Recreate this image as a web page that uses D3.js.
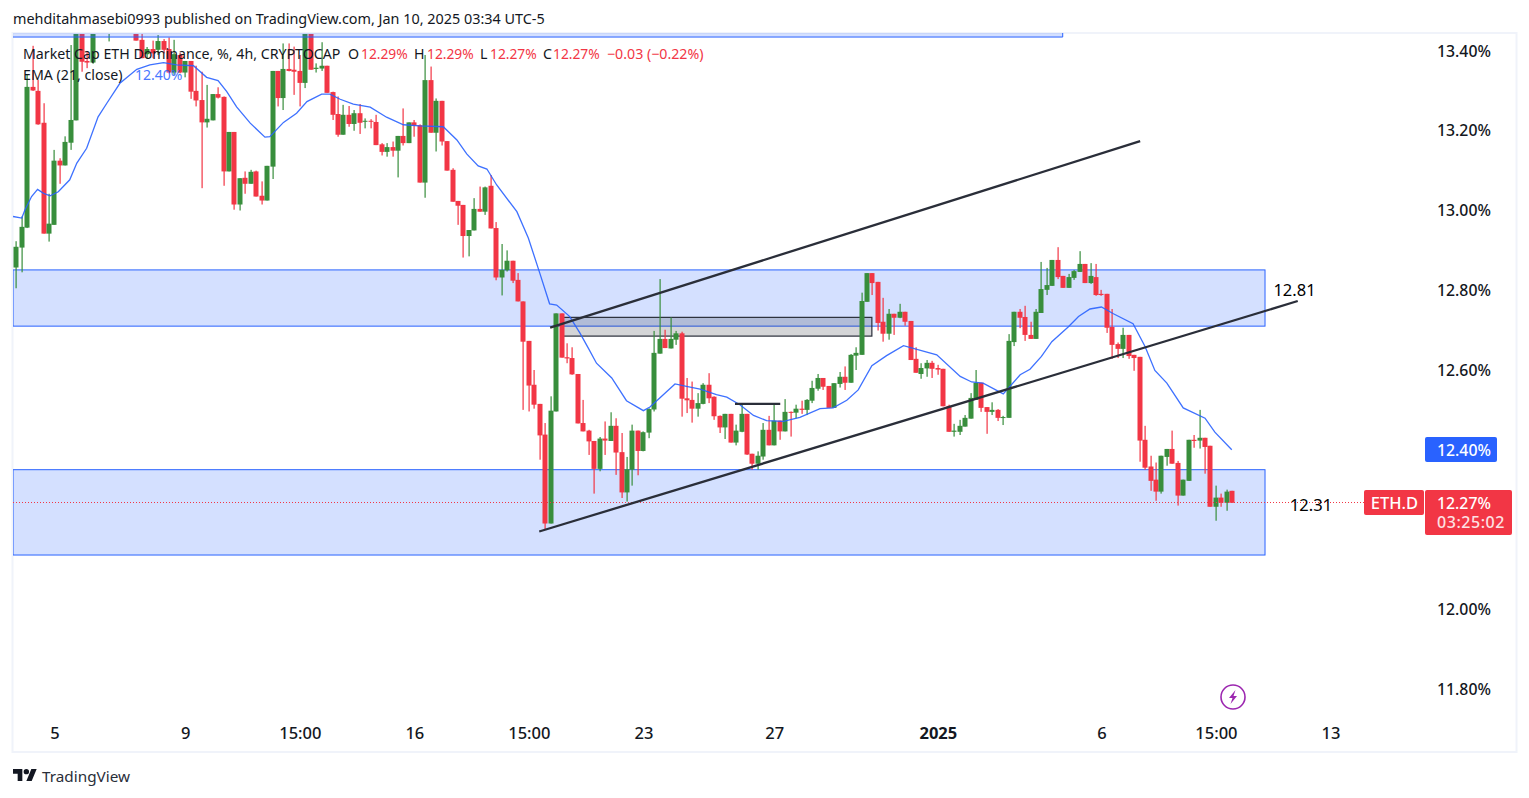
<!DOCTYPE html>
<html><head><meta charset="utf-8">
<script src="https://cdnjs.cloudflare.com/ajax/libs/d3/7.8.5/d3.min.js"></script>
<style>html,body{margin:0;padding:0;background:#fff;overflow:hidden}svg{display:block}text{font-family:"Noto Sans",sans-serif}</style>
</head><body><svg id="c" width="1529" height="798"></svg>
<script>
const opens=[12.857,12.907,12.957,13.31,13.3,13.22,12.942,12.964,13.125,13.113,13.17,13.226,13.47,13.375,13.371,13.48,13.52,13.47,13.5,13.52,13.49,13.53,13.5,13.428,13.392,13.405,13.403,13.425,13.405,13.346,13.39,13.346,13.375,13.3,13.277,13.221,13.226,13.292,13.285,13.098,13.197,13.015,13.082,13.067,13.098,13.037,13.025,13.11,13.35,13.282,13.355,13.353,13.35,13.32,13.47,13.355,13.356,13.363,13.297,13.242,13.19,13.24,13.217,13.244,13.223,13.225,13.222,13.166,13.147,13.159,13.15,13.187,13.169,13.221,13.214,13.07,13.327,13.195,13.275,13.174,13.102,13.024,13.014,12.936,12.95,13.004,12.997,13.062,12.956,12.832,12.85,12.874,12.826,12.772,12.673,12.563,12.515,12.438,12.215,12.496,12.742,12.632,12.63,12.59,12.467,12.448,12.422,12.352,12.428,12.422,12.46,12.394,12.293,12.35,12.448,12.397,12.443,12.501,12.641,12.678,12.654,12.676,12.692,12.529,12.525,12.503,12.515,12.563,12.533,12.485,12.456,12.49,12.418,12.445,12.49,12.39,12.365,12.383,12.45,12.411,12.473,12.446,12.495,12.493,12.503,12.5,12.523,12.553,12.58,12.56,12.505,12.565,12.583,12.568,12.636,12.638,12.771,12.843,12.821,12.721,12.691,12.741,12.731,12.746,12.723,12.628,12.59,12.604,12.618,12.605,12.603,12.51,12.445,12.445,12.458,12.478,12.525,12.568,12.507,12.495,12.5,12.48,12.48,12.67,12.746,12.733,12.688,12.678,12.743,12.801,12.811,12.876,12.836,12.806,12.831,12.846,12.866,12.818,12.833,12.791,12.791,12.708,12.665,12.653,12.688,12.638,12.633,12.425,12.358,12.325,12.295,12.382,12.402,12.367,12.285,12.322,12.425,12.423,12.43,12.41,12.257,12.28,12.267,12.297];
const highs=[12.923,12.985,13.34,13.413,13.328,13.269,13.042,13.152,13.131,13.186,13.415,13.5,13.5,13.399,13.5,13.55,13.56,13.55,13.56,13.57,13.56,13.56,13.53,13.46,13.41,13.426,13.44,13.43,13.434,13.428,13.395,13.375,13.375,13.363,13.348,13.315,13.292,13.309,13.286,13.197,13.197,13.081,13.098,13.102,13.1,13.073,13.112,13.35,13.35,13.419,13.419,13.411,13.39,13.5,13.5,13.369,13.422,13.363,13.298,13.286,13.265,13.262,13.252,13.267,13.231,13.229,13.24,13.169,13.169,13.173,13.187,13.256,13.221,13.227,13.216,13.39,13.361,13.281,13.275,13.174,13.106,13.024,13.014,12.951,13.031,13.06,13.06,13.089,12.971,12.916,12.9,12.874,12.843,12.772,12.673,12.6,12.515,12.467,12.534,12.742,12.742,12.667,12.657,12.59,12.525,12.45,12.422,12.432,12.471,12.494,12.479,12.442,12.382,12.463,12.448,12.446,12.504,12.698,12.828,12.701,12.732,12.698,12.696,12.58,12.571,12.542,12.567,12.592,12.534,12.486,12.49,12.49,12.463,12.514,12.49,12.39,12.396,12.467,12.485,12.514,12.473,12.527,12.496,12.513,12.523,12.527,12.573,12.59,12.58,12.56,12.567,12.595,12.609,12.64,12.657,12.794,12.843,12.843,12.821,12.781,12.753,12.741,12.766,12.746,12.723,12.657,12.617,12.625,12.623,12.613,12.603,12.513,12.465,12.475,12.487,12.542,12.6,12.568,12.507,12.519,12.502,12.485,12.69,12.746,12.753,12.761,12.721,12.753,12.871,12.856,12.876,12.908,12.836,12.841,12.851,12.898,12.866,12.868,12.866,12.801,12.791,12.753,12.669,12.706,12.688,12.638,12.633,12.46,12.385,12.368,12.385,12.402,12.448,12.372,12.325,12.425,12.437,12.5,12.43,12.41,12.31,12.29,12.3,12.297];
const lows=[12.805,12.845,12.956,13.3,13.215,12.942,12.922,12.964,13.067,13.113,13.152,13.226,13.348,13.357,13.368,13.46,13.47,13.424,13.46,13.47,13.46,13.445,13.426,13.382,13.382,13.382,13.39,13.394,13.344,13.34,13.344,13.334,13.28,13.261,13.056,13.208,13.226,13.281,13.062,13.098,13.002,13,13.042,13.067,13.035,13.015,13.025,13.079,13.261,13.252,13.349,13.29,13.261,13.307,13.353,13.346,13.35,13.295,13.227,13.185,13.19,13.21,13.2,13.192,13.206,13.206,13.164,13.138,13.135,13.135,13.083,13.163,13.169,13.185,13.07,13.032,13.195,13.148,13.163,13.1,13.022,12.964,12.882,12.885,12.95,12.997,12.989,12.955,12.825,12.787,12.847,12.818,12.772,12.5,12.496,12.503,12.375,12.199,12.215,12.496,12.631,12.617,12.588,12.466,12.446,12.387,12.29,12.346,12.387,12.422,12.337,12.279,12.27,12.31,12.336,12.396,12.429,12.496,12.641,12.655,12.654,12.663,12.483,12.492,12.468,12.483,12.514,12.517,12.475,12.442,12.427,12.418,12.411,12.444,12.387,12.35,12.35,12.375,12.411,12.411,12.425,12.446,12.433,12.479,12.49,12.487,12.517,12.548,12.55,12.505,12.505,12.556,12.55,12.568,12.6,12.638,12.771,12.788,12.699,12.671,12.676,12.688,12.73,12.711,12.625,12.593,12.578,12.583,12.58,12.588,12.509,12.445,12.433,12.437,12.458,12.478,12.525,12.495,12.44,12.487,12.472,12.462,12.48,12.66,12.705,12.673,12.678,12.678,12.743,12.788,12.811,12.828,12.806,12.806,12.826,12.846,12.818,12.816,12.786,12.786,12.693,12.628,12.63,12.63,12.628,12.598,12.37,12.35,12.297,12.272,12.29,12.36,12.365,12.26,12.285,12.322,12.405,12.403,12.34,12.257,12.222,12.257,12.247,12.267];
const closes=[12.909,12.959,13.31,13.301,13.216,12.942,12.967,13.125,13.113,13.172,13.227,13.47,13.373,13.371,13.47,13.52,13.48,13.5,13.52,13.49,13.52,13.49,13.426,13.382,13.405,13.394,13.425,13.403,13.346,13.392,13.346,13.375,13.298,13.276,13.221,13.23,13.292,13.283,13.098,13.197,13.015,13.081,13.067,13.097,13.035,13.025,13.112,13.35,13.282,13.355,13.35,13.348,13.32,13.47,13.353,13.358,13.363,13.295,13.24,13.19,13.24,13.217,13.244,13.22,13.225,13.224,13.164,13.147,13.159,13.15,13.187,13.169,13.221,13.213,13.07,13.327,13.195,13.275,13.173,13.1,13.022,13.012,12.936,12.951,13.004,12.997,13.058,12.955,12.832,12.851,12.874,12.824,12.772,12.671,12.561,12.513,12.436,12.215,12.498,12.742,12.631,12.629,12.589,12.466,12.446,12.421,12.352,12.428,12.423,12.46,12.393,12.293,12.351,12.448,12.397,12.444,12.502,12.643,12.678,12.655,12.678,12.692,12.528,12.524,12.503,12.517,12.563,12.529,12.484,12.456,12.49,12.418,12.448,12.49,12.388,12.365,12.385,12.45,12.411,12.473,12.446,12.495,12.493,12.503,12.5,12.525,12.555,12.58,12.558,12.505,12.567,12.583,12.568,12.638,12.643,12.773,12.843,12.818,12.718,12.691,12.741,12.731,12.746,12.721,12.625,12.593,12.605,12.618,12.603,12.601,12.509,12.445,12.448,12.46,12.48,12.53,12.568,12.505,12.495,12.5,12.48,12.482,12.673,12.746,12.731,12.688,12.678,12.746,12.803,12.813,12.876,12.833,12.806,12.833,12.848,12.866,12.818,12.836,12.788,12.788,12.706,12.663,12.653,12.688,12.635,12.63,12.423,12.355,12.322,12.295,12.385,12.402,12.365,12.285,12.325,12.425,12.422,12.43,12.407,12.257,12.28,12.267,12.295,12.267];
const emaIdx=[-0.6,1,1.6,2.8,3.9,5,6.2,7.7,9.8,11.1,12.9,15,16.6,19,22.1,24.5,27,29.4,32.5,34.9,37,38.6,40.4,42.9,45.6,46.5,49,51.4,53.3,56,57.5,59.4,61.8,64.9,67.9,71,74,78.3,80.8,82.6,84.7,86.3,88.1,91.8,93.9,96,97.8,99.1,101.5,103.4,104.9,106.4,109.2,111.9,115,116.2,118,120.8,122.9,125.4,128.4,130.3,132.7,135.2,137.6,140.7,143.7,147.4,149.8,152.3,154.4,156.9,159.6,162.7,168.8,173.1,175.2,177.3,181,184.1,185.9,188,189.9,192.9,194.8,196.9,199,201.2,204.8,207,208.8,211,214,218,219.8,222.9];
const emaVal=[12.985,12.981,13.002,13.035,13.053,13.043,13.037,13.047,13.077,13.119,13.156,13.235,13.269,13.319,13.354,13.365,13.371,13.365,13.363,13.334,13.326,13.298,13.26,13.219,13.184,13.185,13.221,13.244,13.273,13.292,13.292,13.279,13.267,13.259,13.234,13.215,13.212,13.21,13.177,13.142,13.112,13.104,13.064,12.997,12.931,12.843,12.766,12.763,12.734,12.692,12.655,12.617,12.58,12.523,12.498,12.507,12.53,12.565,12.559,12.552,12.538,12.532,12.513,12.486,12.473,12.471,12.481,12.503,12.505,12.524,12.55,12.611,12.636,12.661,12.638,12.584,12.57,12.567,12.54,12.588,12.602,12.634,12.671,12.708,12.734,12.753,12.758,12.741,12.716,12.659,12.599,12.567,12.505,12.479,12.444,12.4];
const priceTicks=[13.4,13.2,13.0,12.8,12.6,12.4,12.0,11.8];
const timeTickIdx=[7,31,52,73,94,115,139,169,199,220,241];
const timeTickLabels=["5","9","15:00","16","15:00","23","27","2025","6","15:00","13"];
const zoneTops=[12.851,12.35];
const zoneBottoms=[12.71,12.136];
const trendFrom=[[97.9,12.7065],[95.9,12.195],[131.8,12.515]];
const trendTo=[[206.1,13.174],[235,12.773],[140.1,12.515]];
const GREEN="#388e3c",RED="#f23645",BLUE="#2962ff",INK="#131722";

const svg=d3.select("#c");
const x=d3.scaleLinear().domain([0,223]).range([16.3,1232.3]);
const y=d3.scaleLinear().domain([13.4,11.8]).range([51,689]);
const PL=13,PR=1516,PT=34,PB=752;
const n=opens.length;

svg.append("defs").append("clipPath").attr("id","pane").append("rect").attr("x",PL).attr("y",PT).attr("width",PR-PL).attr("height",PB-PT);
svg.append("rect").attr("x",PL-0.5).attr("y",PT-1).attr("width",PR-PL+1).attr("height",PB-PT+1).attr("fill","#fff").attr("stroke","#f0f3fa").attr("stroke-width",2);

const g=svg.append("g").attr("clip-path","url(#pane)");
const zoneR=x(229);
g.selectAll(".zone").data(zoneTops).join("rect").attr("x",PL).attr("width",zoneR-PL)
 .attr("y",d=>y(d)).attr("height",(d,i)=>y(zoneBottoms[i])-y(d))
 .attr("fill","rgba(41,98,255,0.2)").attr("stroke",BLUE).attr("stroke-width",1);
svg.append("rect").attr("x",PL).attr("y",33).attr("width",x(191.9)-PL).attr("height",y(13.435)-33).attr("fill","rgba(41,98,255,0.2)");
svg.append("line").attr("x1",PL).attr("x2",x(191.9)).attr("y1",y(13.435)).attr("y2",y(13.435)).attr("stroke",BLUE).attr("stroke-width",1);
svg.append("line").attr("x1",x(191.9)).attr("x2",x(191.9)).attr("y1",33).attr("y2",y(13.435)).attr("stroke",BLUE).attr("stroke-width",1);
g.append("rect").attr("x",x(100.3)).attr("width",x(156.9)-x(100.3)).attr("y",y(12.732)).attr("height",y(12.685)-y(12.732))
 .attr("fill","rgba(42,46,57,0.2)").attr("stroke","#2a2e39").attr("stroke-width",1.2);
const idx=d3.range(n);
const col=i=>closes[i]>=opens[i]?GREEN:RED;
g.selectAll(".w").data(idx).join("rect").attr("x",i=>Math.round(x(i))-0.5).attr("width",1.2)
 .attr("y",i=>y(highs[i])).attr("height",i=>y(lows[i])-y(highs[i])).attr("fill",col);
g.selectAll(".b").data(idx).join("rect").attr("x",i=>Math.round(x(i))-2.5).attr("width",5)
 .attr("y",i=>y(Math.max(opens[i],closes[i]))).attr("height",i=>Math.max(1,Math.abs(y(opens[i])-y(closes[i])))).attr("fill",col);
const priceY=Math.round(y(12.27))+0.5;
g.append("line").attr("x1",PL).attr("x2",1364).attr("y1",priceY).attr("y2",priceY).attr("stroke",RED).attr("stroke-width",1.1).attr("stroke-dasharray","1 2").attr("shape-rendering","crispEdges");
const line=d3.line().x(d=>x(d[0])).y(d=>y(d[1]));
g.append("path").datum(emaIdx.map((d,i)=>[d,emaVal[i]])).attr("d",line).attr("fill","none").attr("stroke",BLUE).attr("stroke-width",1.3).attr("opacity",.9);
g.selectAll(".t").data(trendFrom).join("line").attr("x1",d=>x(d[0])).attr("y1",d=>y(d[1]))
 .attr("x2",(d,i)=>x(trendTo[i][0])).attr("y2",(d,i)=>y(trendTo[i][1])).attr("stroke","#2a2e39").attr("stroke-width",2.3);

const yA=svg.append("g").attr("transform","translate(1437,0)").call(d3.axisRight(y).tickValues(priceTicks).tickSize(0).tickPadding(0).tickFormat(d=>d.toFixed(2)+"%"));
yA.select(".domain").remove();
yA.selectAll("text").attr("fill",INK).attr("font-size",15.8).attr("font-weight",500).attr("font-family",'"Noto Sans",sans-serif');
const xA=svg.append("g").attr("transform","translate(0,722)").call(d3.axisBottom(x).tickValues(timeTickIdx).tickSize(0).tickPadding(0).tickFormat((d,i)=>timeTickLabels[i]));
xA.select(".domain").remove();
xA.selectAll("text").attr("fill",INK).attr("font-size",16.5).attr("font-weight",(d,i)=>timeTickLabels[i]==="2025"?700:500).attr("dy","1.05em").attr("font-family",'"Noto Sans",sans-serif');

const T=(s,px,py,size,fill,anchor)=>svg.append("text").attr("x",px).attr("y",py).attr("font-size",size).attr("fill",fill).attr("text-anchor",anchor||"start").text(s);
T("mehditahmasebi0993 published on TradingView.com, Jan 10, 2025 03:34 UTC-5",13,24,14.4,INK);
T("Market Cap ETH Dominance, %, 4h, CRYPTOCAP",23,59,14.2,INK);
[["O",348],["H",414],["L",480],["C",543]].forEach(d=>T(d[0],d[1],59,14.2,INK));
[["12.29%",361],["12.29%",427],["12.27%",490],["12.27%",553],["−0.03 (−0.22%)",607]].forEach(d=>T(d[0],d[1],59,(d[1]==607?14.2:13.8),RED));
T("EMA (21, close)",23,80,14.2,INK);
T("12.40%",135,80,14,BLUE).attr("opacity",.85);
T("12.81",1294.5,296,16.5,"#000","middle");
T("12.31",1311,511,16.5,"#000","middle");

svg.append("rect").attr("x",1425).attr("y",437).attr("width",72).attr("height",25).attr("rx",2).attr("fill",BLUE);
T("12.40%",1437,455.5,15.8,"#fff").attr("font-weight",500);
svg.append("rect").attr("x",1364).attr("y",490).attr("width",60).attr("height",25).attr("rx",2).attr("fill",RED);
T("ETH.D",1394.5,508.5,16.5,"#fff","middle").attr("font-weight",500);
svg.append("rect").attr("x",1425).attr("y",490).attr("width",87).attr("height",45).attr("rx",2).attr("fill",RED);
T("12.27%",1437,508.5,15.8,"#fff").attr("font-weight",500);
T("03:25:02",1437,528,16,"#fff").attr("opacity",.85).attr("font-weight",500).attr("letter-spacing",".55px");

const b=svg.append("g").attr("transform","translate(1233,697)");
b.append("circle").attr("r",12).attr("fill","#fff").attr("stroke","#9c27b0").attr("stroke-width",1.6);
b.append("path").attr("d","M2.5,-7 L-4,1 L-0.5,1 L-2.5,7 L4,-1 L0.5,-1 Z").attr("fill","#9c27b0");

svg.append("path").attr("transform","translate(13,766.3) scale(.667)").attr("fill",INK)
 .attr("d","M14 22H7V11H0V4h14v18zM28 22h-8l7.5-18h8L28 22z");
svg.append("circle").attr("cx",13+20*.667).attr("cy",766.3+8*.667).attr("r",2.7).attr("fill",INK);
T("TradingView",42,782,15.3,"#2a2e39");
</script></body></html>
